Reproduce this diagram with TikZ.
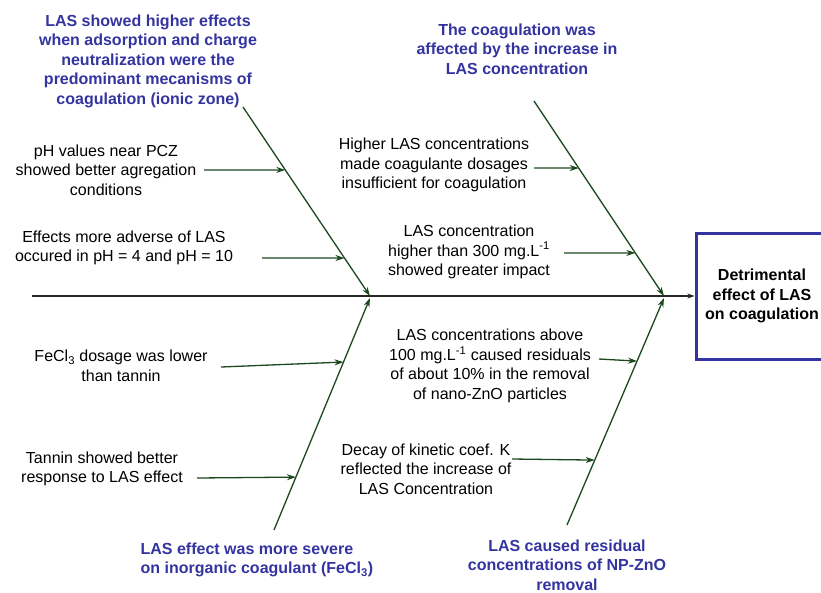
\documentclass[tikz,border=0pt]{standalone}
\usepackage{fontspec}
\setmainfont{Liberation Sans}
\usetikzlibrary{calc,arrows.meta}
\definecolor{azul}{RGB}{52,52,160}
\definecolor{verde}{RGB}{28,72,30}

\begin{document}
\begin{tikzpicture}[x=1pt,y=-1pt,>={Stealth[length=9pt,width=6pt]},line width=1.3pt,
    tit/.style={text=azul,font=\fontsize{16}{19.5}\selectfont\bfseries,align=center,inner sep=0pt},
    causa/.style={font=\fontsize{16}{19.5}\selectfont,align=center,inner sep=0pt},
    espina/.style={verde,->}]
            \useasboundingbox (0,0) rectangle (821,592);

            % Efecto
            \node[draw=azul,line width=3pt,minimum width=132pt,minimum height=126pt,
                  font=\fontsize{16}{19.5}\selectfont\bfseries,align=center,inner sep=0pt]
                  (efecto) at (762,296) {Detrimental\\effect of LAS\\on coagulation};

            % Espina
            \coordinate (inicio) at (32,296);
            \draw[black!85,-{Stealth[length=7pt,width=5pt]}] (inicio) -- (efecto.west);

            % Categorias
            \node[tit] (tUL) at (148,61) {LAS showed higher effects\\when adsorption and charge\\neutralization were the\\predominant mecanisms of\\coagulation (ionic zone)};
            \node[tit] (tUR) at (517,49) {The coagulation was\\affected by the increase in\\LAS concentration};
            \node[tit,align=left,anchor=west] (tLL) at (140,560) {LAS effect was more severe\\on inorganic coagulant (FeCl\textsubscript{3})};
            \node[tit] (tLR) at (567,565) {LAS caused residual\\concentrations of NP-ZnO\\removal};

            % Huesos
            \coordinate (ulT) at (243,107);
            \coordinate (ulH) at (370,296);
            \coordinate (urT) at (534,101);
            \coordinate (urH) at (664,296);
            \coordinate (llT) at (274,530);
            \coordinate (llH) at (370,298);
            \coordinate (lrT) at (567,525);
            \coordinate (lrH) at (664,298);
            \draw[espina] (ulT) -- (ulH);
            \draw[espina] (urT) -- (urH);
            \draw[espina] (llT) -- (llH);
            \draw[espina] (lrT) -- (lrH);

            % Causas
            \node[causa] (ph) at (106,170) {pH values near PCZ\\showed better agregation\\conditions};
            \node[causa] (ef) at (124,248) {Effects more adverse of LAS\\occured in pH = 4 and pH = 10};
            \node[causa] (hi) at (434,165) {Higher LAS concentrations\\made coagulante dosages\\insufficient for coagulation};
            \node[causa] (lc) at (469,252) {LAS concentration\\higher than 300 mg.L\textsuperscript{-1}\\showed greater impact};
            \node[causa] (fe) at (121,366) {FeCl\textsubscript{3} dosage was lower\\than tannin};
            \node[causa] (ta) at (102,469) {Tannin showed better\\response to LAS effect};
            \node[causa] (ab) at (490,366) {LAS concentrations above\\100 mg.L\textsuperscript{-1} caused residuals\\of about 10\% in the removal\\of nano-ZnO particles};
            \node[causa] (de) at (426,469) {Decay of kinetic coef. K\\reflected the increase of\\LAS Concentration};

            % Flechas
            \coordinate (phS) at (204,170);
            \coordinate (efS) at (262,258);
            \coordinate (hiS) at (534,168);
            \coordinate (lcS) at (564,253);
            \coordinate (feS) at (221,367);
            \coordinate (taS) at (197,478);
            \coordinate (abS) at (599,359);
            \coordinate (deS) at (512,459);
            \draw[espina] (phS) -- ($(ulT)!0.333!(ulH)$);
            \draw[espina] (efS) -- ($(ulT)!0.799!(ulH)$);
            \draw[espina] (hiS) -- ($(urT)!0.344!(urH)$);
            \draw[espina] (lcS) -- ($(urT)!0.779!(urH)$);
            \draw[espina] (feS) -- ($(llT)!0.724!(llH)$);
            \draw[espina] (taS) -- ($(llT)!0.228!(llH)$);
            \draw[espina] (abS) -- ($(lrT)!0.722!(lrH)$);
            \draw[espina] (deS) -- ($(lrT)!0.286!(lrH)$);
        \end{tikzpicture}
\end{document}
